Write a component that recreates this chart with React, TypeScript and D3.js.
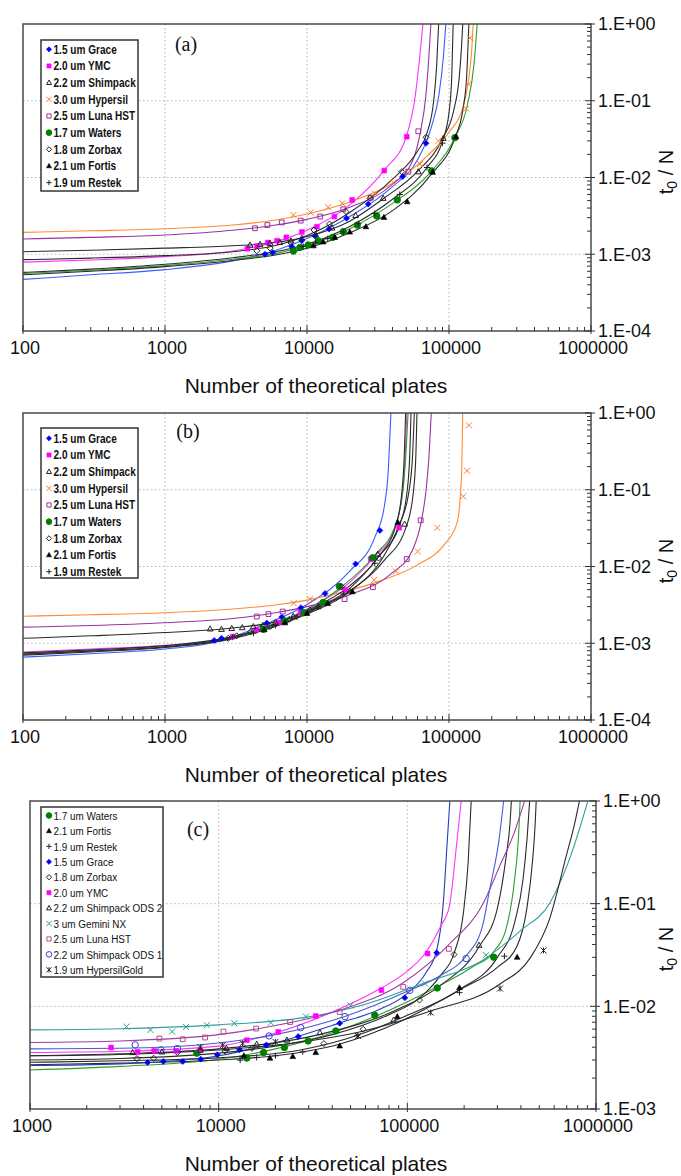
import React from 'react';
import * as d3 from 'd3';

type Pt = [number, number];

// ---------- panel (a): markers and fitted curves ----------
const aGracePts: Pt[] = [[5060, 1.0e-3], [5730, 1.05e-3], [7800, 1.26e-3], [9180, 1.5e-3], [11400, 1.73e-3], [14300, 2.13e-3], [19000, 2.94e-3], [27000, 4.5e-3], [47200, 0.0103], [68900, 0.0279]];
const aGraceFit: Pt[] = [[100, 4.7e-4], [300, 5.4e-4], [1000, 6.3e-4], [3000, 8.2e-4], [6000, 1.12e-3], [10000, 1.6e-3], [20000, 3.1e-3], [40000, 7.6e-3], [60000, 0.017], [75000, 0.045], [85000, 0.12], [91000, 0.35], [95000, 1.0]];
const aYmcPts: Pt[] = [[3800, 1.18e-3], [4450, 1.28e-3], [5300, 1.42e-3], [6150, 1.5e-3], [7150, 1.66e-3], [9200, 1.95e-3], [11750, 2.29e-3], [15600, 3.1e-3], [20800, 5.1e-3], [35000, 0.0123], [50400, 0.034]];
const aYmcFit: Pt[] = [[100, 7.9e-4], [300, 8.4e-4], [1000, 9.3e-4], [3000, 1.1e-3], [6000, 1.45e-3], [10000, 2.05e-3], [20000, 4.4e-3], [35000, 0.0125], [50000, 0.034], [58000, 0.12], [62000, 0.35], [65500, 1.0]];
const aShimPts: Pt[] = [[3970, 1.32e-3], [4670, 1.35e-3], [5490, 1.39e-3], [6450, 1.43e-3], [7700, 1.5e-3], [9200, 1.62e-3], [11500, 1.8e-3], [15000, 2.2e-3], [22000, 3.2e-3], [34400, 5.36e-3], [60800, 0.0119], [91200, 0.0324]];
const aShimFit: Pt[] = [[100, 1.08e-3], [300, 1.13e-3], [1000, 1.2e-3], [3000, 1.29e-3], [6000, 1.42e-3], [10000, 1.7e-3], [20000, 2.7e-3], [35000, 5.4e-3], [60000, 0.012], [90000, 0.032], [108000, 0.075], [118000, 0.2], [122500, 0.5], [125000, 1.0]];
const aHypPts: Pt[] = [[8020, 3.25e-3], [10600, 3.5e-3], [14100, 4.1e-3], [17700, 4.6e-3], [30100, 6.2e-3], [40600, 8.6e-3], [62500, 0.015], [84200, 0.03], [132000, 0.079], [137000, 0.165], [141000, 0.66]];
const aHypFit: Pt[] = [[100, 1.93e-3], [300, 2.02e-3], [1000, 2.15e-3], [3000, 2.4e-3], [6000, 2.8e-3], [10000, 3.35e-3], [20000, 4.8e-3], [40000, 8.4e-3], [70000, 0.019], [100000, 0.039], [125000, 0.08], [138000, 0.2], [145000, 0.5], [148000, 1.0]];
const aLunaPts: Pt[] = [[4300, 2.18e-3], [5260, 2.4e-3], [6640, 2.6e-3], [9030, 2.74e-3], [12400, 3.1e-3], [18000, 3.85e-3], [28100, 5.46e-3], [51700, 0.0119], [60800, 0.04]];
const aLunaFit: Pt[] = [[100, 1.58e-3], [300, 1.66e-3], [1000, 1.78e-3], [3000, 2.05e-3], [6000, 2.4e-3], [10000, 2.85e-3], [20000, 4.1e-3], [40000, 8.2e-3], [55000, 0.016], [63000, 0.04], [68500, 0.11], [72000, 0.35], [74500, 1.0]];
const aWatersPts: Pt[] = [[8020, 1.1e-3], [8930, 1.23e-3], [10200, 1.32e-3], [12000, 1.5e-3], [15200, 1.66e-3], [18000, 1.97e-3], [22600, 2.4e-3], [31000, 3.15e-3], [43200, 5.1e-3], [75500, 0.0122], [110000, 0.033]];
const aWatersFit: Pt[] = [[100, 5.6e-4], [300, 6.2e-4], [1000, 7.1e-4], [3000, 8.6e-4], [6000, 1.02e-3], [10000, 1.3e-3], [20000, 2.15e-3], [40000, 4.6e-3], [75000, 0.012], [110000, 0.033], [135000, 0.09], [150000, 0.3], [158000, 1.0]];
const aZorbaxPts: Pt[] = [[4430, 1.11e-3], [5500, 1.2e-3], [7670, 1.42e-3], [11200, 2.07e-3], [14400, 2.48e-3], [18800, 3.59e-3], [27800, 5.36e-3], [46500, 0.0119], [68900, 0.0334]];
const aZorbaxFit: Pt[] = [[100, 8.5e-4], [300, 8.9e-4], [1000, 9.6e-4], [3000, 1.08e-3], [6000, 1.3e-3], [10000, 1.75e-3], [20000, 3.5e-3], [40000, 9.5e-3], [60000, 0.022], [70000, 0.038], [78000, 0.1], [82000, 0.3], [84500, 1.0]];
const aFortisPts: Pt[] = [[11100, 1.29e-3], [13000, 1.45e-3], [15700, 1.66e-3], [20000, 1.95e-3], [26000, 2.29e-3], [34800, 3.03e-3], [50800, 4.84e-3], [76700, 0.0117], [112000, 0.034]];
const aFortisFit: Pt[] = [[100, 5.4e-4], [300, 6.0e-4], [1000, 6.9e-4], [3000, 8.3e-4], [6000, 9.8e-4], [10000, 1.2e-3], [20000, 1.9e-3], [40000, 3.7e-3], [75000, 0.011], [110000, 0.033], [125000, 0.075], [133000, 0.2], [138000, 1.0]];
const aRestekPts: Pt[] = [[9400, 1.26e-3], [11500, 1.4e-3], [14000, 1.6e-3], [18000, 1.95e-3], [23000, 2.5e-3], [30000, 3.4e-3], [45000, 6.0e-3], [70000, 0.0135], [90000, 0.028]];
const aRestekFit: Pt[] = [[100, 5.8e-4], [300, 6.4e-4], [1000, 7.4e-4], [3000, 9e-4], [6000, 1.08e-3], [10000, 1.35e-3], [20000, 2.3e-3], [40000, 5.2e-3], [70000, 0.0135], [90000, 0.03], [100000, 0.07], [104500, 0.2], [107000, 1.0]];

// ---------- panel (b) ----------
const bGracePts: Pt[] = [[2220, 1.09e-3], [2500, 1.16e-3], [5210, 1.83e-3], [6640, 2.19e-3], [9050, 2.9e-3], [13400, 4.45e-3], [22000, 0.0108], [32600, 0.0295]];
const bGraceFit: Pt[] = [[100, 6.6e-4], [300, 7.3e-4], [1000, 8.4e-4], [2200, 1.02e-3], [5000, 1.75e-3], [10000, 3.2e-3], [20000, 8.7e-3], [30000, 0.024], [35000, 0.06], [37500, 0.2], [39000, 1.0]];
const bYmcPts: Pt[] = [[3000, 1.22e-3], [4400, 1.5e-3], [6300, 1.85e-3], [9000, 2.5e-3], [13000, 3.4e-3], [18500, 5.0e-3], [28100, 0.0125], [44500, 0.032]];
const bYmcFit: Pt[] = [[100, 7.7e-4], [300, 8.4e-4], [1000, 9.4e-4], [3000, 1.2e-3], [6000, 1.8e-3], [10000, 2.8e-3], [20000, 6.2e-3], [30000, 0.0135], [40000, 0.027], [46000, 0.07], [49000, 0.25], [50500, 1.0]];
const bShimPts: Pt[] = [[2080, 1.54e-3], [2500, 1.52e-3], [2950, 1.56e-3], [3500, 1.6e-3], [4190, 1.65e-3], [4900, 1.72e-3], [6000, 1.88e-3], [8000, 2.25e-3], [12000, 3.0e-3], [20000, 4.8e-3], [31500, 0.0145], [48700, 0.0357]];
const bShimFit: Pt[] = [[100, 1.16e-3], [300, 1.25e-3], [1000, 1.38e-3], [3000, 1.58e-3], [6000, 1.9e-3], [10000, 2.6e-3], [20000, 5.2e-3], [32000, 0.0135], [45000, 0.035], [50500, 0.09], [53000, 0.3], [54000, 1.0]];
const bHypPts: Pt[] = [[8060, 3.33e-3], [10500, 3.76e-3], [29700, 6.7e-3], [42300, 8.6e-3], [60200, 0.0157], [82700, 0.032], [126000, 0.082], [134000, 0.177], [138000, 0.69]];
const bHypFit: Pt[] = [[100, 2.25e-3], [300, 2.35e-3], [1000, 2.5e-3], [3000, 2.8e-3], [6000, 3.15e-3], [10000, 3.65e-3], [20000, 4.9e-3], [32000, 6.4e-3], [60000, 0.0105], [92000, 0.019], [114000, 0.037], [120000, 0.08], [123000, 0.2], [125000, 1.0]];
const bLunaPts: Pt[] = [[4430, 2.23e-3], [5350, 2.4e-3], [6740, 2.59e-3], [12500, 3.2e-3], [18400, 3.76e-3], [29100, 5.4e-3], [50400, 0.0125], [63200, 0.04]];
const bLunaFit: Pt[] = [[100, 1.62e-3], [300, 1.7e-3], [1000, 1.85e-3], [3000, 2.1e-3], [6000, 2.5e-3], [10000, 3.0e-3], [20000, 4.3e-3], [40000, 8.3e-3], [55000, 0.016], [64000, 0.04], [69000, 0.1], [72500, 0.3], [75000, 1.0]];
const bWatersPts: Pt[] = [[4920, 1.52e-3], [7000, 1.95e-3], [9500, 2.5e-3], [13000, 3.4e-3], [16900, 5.5e-3], [29000, 0.013]];
const bWatersFit: Pt[] = [[100, 7.3e-4], [300, 8e-4], [1000, 9e-4], [3000, 1.2e-3], [6000, 1.75e-3], [10000, 2.7e-3], [17000, 5.2e-3], [30000, 0.014], [42000, 0.035], [47500, 0.1], [50000, 0.35], [51500, 1.0]];
const bZorbaxPts: Pt[] = [[2790, 1.16e-3], [3200, 1.25e-3], [4000, 1.4e-3], [5500, 1.65e-3], [7500, 2.05e-3], [10500, 2.7e-3], [17500, 5.5e-3], [31900, 0.0129]];
const bZorbaxFit: Pt[] = [[100, 7.5e-4], [300, 8.2e-4], [1000, 9.3e-4], [3000, 1.22e-3], [6000, 1.8e-3], [10000, 2.65e-3], [20000, 5.6e-3], [32000, 0.0135], [42000, 0.033], [46500, 0.09], [48500, 0.3], [49500, 1.0]];
const bFortisPts: Pt[] = [[5000, 1.5e-3], [7000, 1.85e-3], [10000, 2.45e-3], [14000, 3.3e-3], [20900, 4.7e-3], [43600, 0.0375]];
const bFortisFit: Pt[] = [[100, 7.0e-4], [300, 7.7e-4], [1000, 8.8e-4], [3000, 1.15e-3], [6000, 1.65e-3], [10000, 2.4e-3], [20000, 4.7e-3], [35000, 0.014], [44000, 0.033], [52000, 0.09], [55500, 0.3], [57000, 1.0]];
const bRestekPts: Pt[] = [[3000, 1.2e-3], [4200, 1.35e-3], [6000, 1.7e-3], [8500, 2.2e-3], [12000, 3.0e-3], [18000, 4.4e-3], [30000, 0.011]];
const bRestekFit: Pt[] = [[100, 7.2e-4], [300, 7.9e-4], [1000, 9e-4], [3000, 1.18e-3], [6000, 1.7e-3], [10000, 2.5e-3], [20000, 4.8e-3], [35000, 0.012], [50000, 0.033], [56000, 0.09], [58500, 0.3], [59500, 1.0]];

// ---------- panel (c) ----------
const cWatersPts: Pt[] = [[7660, 3.5e-3], [14100, 3.13e-3], [17300, 3.55e-3], [22300, 3.97e-3], [29800, 4.6e-3], [41800, 5.76e-3], [67200, 8.18e-3], [144000, 0.0151], [287000, 0.0301]];
const cWatersFit: Pt[] = [[1000, 2.4e-3], [3000, 2.6e-3], [10000, 3.05e-3], [20000, 3.85e-3], [42000, 5.7e-3], [70000, 8.2e-3], [144000, 0.0155], [220000, 0.024], [290000, 0.035], [333000, 0.056], [370000, 0.17], [390000, 0.52], [396000, 1.0]];
const cFortisPts: Pt[] = [[13600, 3.3e-3], [18700, 3.13e-3], [24700, 3.25e-3], [32700, 3.55e-3], [43800, 4.12e-3], [88500, 7.94e-3], [189000, 0.0152], [382000, 0.0301]];
const cFortisFit: Pt[] = [[1000, 2.7e-3], [3000, 2.8e-3], [10000, 3.0e-3], [20000, 3.3e-3], [44000, 4.3e-3], [90000, 7e-3], [190000, 0.0145], [300000, 0.024], [380000, 0.038], [430000, 0.09], [460000, 0.25], [476000, 0.6], [482000, 1.0]];
const cRestekPts: Pt[] = [[13000, 2.99e-3], [15900, 3.18e-3], [20000, 3.3e-3], [27900, 3.6e-3], [54200, 5.22e-3], [189000, 0.0136], [327000, 0.0308]];
const cRestekFit: Pt[] = [[1000, 2.85e-3], [3000, 2.95e-3], [10000, 3.15e-3], [28000, 3.8e-3], [54000, 5.2e-3], [100000, 8.2e-3], [189000, 0.0145], [300000, 0.03], [370000, 0.065], [410000, 0.17], [432000, 0.45], [445000, 1.0]];
const cGracePts: Pt[] = [[4200, 2.84e-3], [5090, 2.9e-3], [6450, 2.9e-3], [8030, 3.06e-3], [9840, 3.37e-3], [12900, 3.77e-3], [17900, 4.21e-3], [26400, 5.08e-3], [43800, 6.84e-3], [97000, 0.0121], [143000, 0.0332]];
const cGraceFit: Pt[] = [[1000, 2.65e-3], [3000, 2.75e-3], [10000, 3.3e-3], [20000, 4.4e-3], [44000, 6.9e-3], [70000, 9.2e-3], [97000, 0.0128], [125000, 0.021], [143000, 0.035], [155000, 0.1], [162000, 0.35], [168000, 1.0]];
const cZorbaxPts: Pt[] = [[3690, 3.1e-3], [4520, 3.12e-3], [6040, 3.55e-3], [10800, 3.68e-3], [15000, 3.9e-3], [36100, 4.34e-3], [58300, 5.98e-3], [116000, 0.0115], [177000, 0.032]];
const cZorbaxFit: Pt[] = [[1000, 3.0e-3], [3000, 3.1e-3], [10000, 3.5e-3], [20000, 4.1e-3], [40000, 5.3e-3], [80000, 8.3e-3], [116000, 0.012], [150000, 0.02], [177000, 0.033], [198000, 0.08], [210000, 0.25], [218000, 1.0]];
const cYmcPts: Pt[] = [[2690, 3.97e-3], [3720, 3.6e-3], [4550, 3.68e-3], [5950, 3.68e-3], [7980, 3.74e-3], [14100, 4.68e-3], [20700, 5.63e-3], [32700, 8.05e-3], [72900, 0.0144], [128000, 0.0327]];
const cYmcFit: Pt[] = [[1000, 3.55e-3], [3000, 3.65e-3], [10000, 4.1e-3], [20000, 5.5e-3], [40000, 8.8e-3], [70000, 0.0145], [100000, 0.022], [126000, 0.034], [150000, 0.06], [167000, 0.094], [182000, 0.36], [193000, 1.0]];
const cShim2Pts: Pt[] = [[3500, 3.55e-3], [5000, 3.6e-3], [8000, 3.75e-3], [11000, 3.9e-3], [15900, 4.28e-3], [23000, 4.7e-3], [34400, 5.56e-3], [84600, 7.36e-3], [240000, 0.0394]];
const cShim2Fit: Pt[] = [[1000, 3.3e-3], [3000, 3.45e-3], [10000, 3.85e-3], [34000, 5.3e-3], [85000, 9e-3], [150000, 0.016], [240000, 0.038], [300000, 0.09], [335000, 0.3], [350000, 0.6], [356000, 1.0]];
const cGeminiPts: Pt[] = [[3245, 6.35e-3], [4350, 5.89e-3], [5670, 5.68e-3], [6710, 6.3e-3], [8650, 6.55e-3], [12100, 6.84e-3], [18900, 6.95e-3], [29000, 7.95e-3], [50000, 0.0102], [124000, 0.0167], [261000, 0.0315]];
const cGeminiFit: Pt[] = [[1000, 5.9e-3], [3000, 6.05e-3], [10000, 6.6e-3], [30000, 7.9e-3], [60000, 0.0105], [124000, 0.017], [250000, 0.028], [400000, 0.055], [566000, 0.1], [723000, 0.27], [903000, 0.98]];
const cLunaPts: Pt[] = [[4850, 4.85e-3], [6450, 4.78e-3], [8470, 4.97e-3], [10600, 5.68e-3], [15800, 6.07e-3], [23900, 7.04e-3], [43800, 8.8e-3], [95100, 0.0155], [166000, 0.0363]];
const cLunaFit: Pt[] = [[1000, 4.45e-3], [3000, 4.6e-3], [10000, 5.3e-3], [20000, 6.5e-3], [44000, 9.2e-3], [95000, 0.017], [166000, 0.04], [252000, 0.1], [308000, 0.23], [370000, 0.5], [418000, 1.0]];
const cShim1Pts: Pt[] = [[3610, 4.21e-3], [4940, 3.77e-3], [6040, 3.88e-3], [18500, 5.15e-3], [27200, 6.2e-3], [46700, 7.94e-3], [103000, 0.0143], [205000, 0.0292]];
const cShim1Fit: Pt[] = [[1000, 3.85e-3], [3000, 3.9e-3], [10000, 4.4e-3], [20000, 5.3e-3], [47000, 8e-3], [100000, 0.014], [150000, 0.02], [205000, 0.031], [250000, 0.06], [273000, 0.137], [305000, 0.4], [324000, 1.0]];
const cHgPts: Pt[] = [[8000, 4.0e-3], [10500, 4.18e-3], [13400, 4.37e-3], [20000, 4.5e-3], [54700, 5.15e-3], [133000, 8.7e-3], [310000, 0.0149], [527000, 0.035]];
const cHgFit: Pt[] = [[1000, 3.3e-3], [3000, 3.4e-3], [10000, 3.75e-3], [30000, 4.6e-3], [55000, 5.6e-3], [133000, 9e-3], [310000, 0.0165], [450000, 0.03], [566000, 0.07], [695000, 0.29], [770000, 0.6], [817000, 1.0]];

// ---------- labels ----------
const legendAB = ['1.5 um Grace', '2.0 um YMC', '2.2 um Shimpack', '3.0 um Hypersil', '2.5 um Luna HST', '1.7 um Waters', '1.8 um Zorbax', '2.1 um Fortis', '1.9 um Restek'];
const legendC = ['1.7 um Waters', '2.1 um Fortis', '1.9 um Restek', '1.5 um Grace', '1.8 um Zorbax', '2.0 um YMC', '2.2 um Shimpack ODS 2', '3 um Gemini NX', '2.5 um Luna HST', '2.2 um Shimpack ODS 1', '1.9 um HypersilGold'];
const xTicksAB = [100, 1000, 10000, 100000, 1000000];
const xTicksC = [1000, 10000, 100000, 1000000];
const yTicksAB = [1, 0.1, 0.01, 0.001, 0.0001];
const yTicksC = [1, 0.1, 0.01, 0.001];
const yLabelsAB = ['1.E+00', '1.E-01', '1.E-02', '1.E-03', '1.E-04'];
const yLabelsC = ['1.E+00', '1.E-01', '1.E-02', '1.E-03'];
const xTitle = 'Number of theoretical plates';

// styles per column
const STY: Record<string, { mk: string; fill: string; stroke: string; line: string }> = {
  grace: { mk: 'diamond', fill: '#0000ff', stroke: '#0000ff', line: '#3d5cff' },
  ymc: { mk: 'square', fill: '#ff00ff', stroke: '#ff00ff', line: '#ff33ff' },
  shim: { mk: 'triangle', fill: 'none', stroke: '#222', line: '#2b2b2b' },
  hyp: { mk: 'x', fill: 'none', stroke: '#ff7a2a', line: '#ff8a33' },
  luna: { mk: 'square', fill: 'none', stroke: '#993399', line: '#9933a0' },
  waters: { mk: 'circle', fill: '#008000', stroke: '#008000', line: '#2e9e2e' },
  zorbax: { mk: 'diamond', fill: 'none', stroke: '#222', line: '#2b2b2b' },
  fortis: { mk: 'triangle', fill: '#000', stroke: '#000', line: '#2b2b2b' },
  restek: { mk: 'plus', fill: 'none', stroke: '#222', line: '#2b2b2b' },
  graceC: { mk: 'diamond', fill: '#0000ee', stroke: '#0000ee', line: '#2c3cb4' },
  gemini: { mk: 'x', fill: 'none', stroke: '#2a9a9a', line: '#339c9c' },
  lunaC: { mk: 'square', fill: 'none', stroke: '#b0508a', line: '#9a40a0' },
  shim1: { mk: 'circle', fill: 'none', stroke: '#3344cc', line: '#4a5ad0' },
  hg: { mk: 'star', fill: 'none', stroke: '#222', line: '#2b2b2b' },
};

const seriesA = [
  { pts: aGracePts, fit: aGraceFit, s: 'grace' }, { pts: aYmcPts, fit: aYmcFit, s: 'ymc' },
  { pts: aShimPts, fit: aShimFit, s: 'shim' }, { pts: aHypPts, fit: aHypFit, s: 'hyp' },
  { pts: aLunaPts, fit: aLunaFit, s: 'luna' }, { pts: aWatersPts, fit: aWatersFit, s: 'waters' },
  { pts: aZorbaxPts, fit: aZorbaxFit, s: 'zorbax' }, { pts: aFortisPts, fit: aFortisFit, s: 'fortis' },
  { pts: aRestekPts, fit: aRestekFit, s: 'restek' },
];
const seriesB = [
  { pts: bGracePts, fit: bGraceFit, s: 'grace' }, { pts: bYmcPts, fit: bYmcFit, s: 'ymc' },
  { pts: bShimPts, fit: bShimFit, s: 'shim' }, { pts: bHypPts, fit: bHypFit, s: 'hyp' },
  { pts: bLunaPts, fit: bLunaFit, s: 'luna' }, { pts: bWatersPts, fit: bWatersFit, s: 'waters' },
  { pts: bZorbaxPts, fit: bZorbaxFit, s: 'zorbax' }, { pts: bFortisPts, fit: bFortisFit, s: 'fortis' },
  { pts: bRestekPts, fit: bRestekFit, s: 'restek' },
];
const seriesC = [
  { pts: cWatersPts, fit: cWatersFit, s: 'waters' }, { pts: cFortisPts, fit: cFortisFit, s: 'fortis' },
  { pts: cRestekPts, fit: cRestekFit, s: 'restek' }, { pts: cGracePts, fit: cGraceFit, s: 'graceC' },
  { pts: cZorbaxPts, fit: cZorbaxFit, s: 'zorbax' }, { pts: cYmcPts, fit: cYmcFit, s: 'ymc' },
  { pts: cShim2Pts, fit: cShim2Fit, s: 'shim' }, { pts: cGeminiPts, fit: cGeminiFit, s: 'gemini' },
  { pts: cLunaPts, fit: cLunaFit, s: 'lunaC' }, { pts: cShim1Pts, fit: cShim1Fit, s: 'shim1' },
  { pts: cHgPts, fit: cHgFit, s: 'hg' },
];

const SANS = 'Liberation Sans, Arial, Helvetica, sans-serif';
const SERIF = 'Liberation Serif, Times New Roman, serif';

function glyph(mk: string, r: number) {
  switch (mk) {
    case 'diamond': return `M0,${-r}L${r},0L0,${r}L${-r},0Z`;
    case 'square': { const h = r * 0.8; return `M${-h},${-h}H${h}V${h}H${-h}Z`; }
    case 'triangle': return `M0,${-r}L${r * 0.95},${r * 0.7}L${-r * 0.95},${r * 0.7}Z`;
    case 'x': return `M${-r},${-r}L${r},${r}M${r},${-r}L${-r},${r}`;
    case 'plus': return `M${-r},0H${r}M0,${-r}V${r}`;
    case 'star': return `M${-r},${-r}L${r},${r}M${r},${-r}L${-r},${r}M0,${-r}V${r}`;
    default: return null;
  }
}

const Marker = ({ x, y, s, r }: { x: number; y: number; s: string; r: number }) => {
  const st = STY[s];
  if (st.mk === 'circle') {
    return <circle cx={x} cy={y} r={r} fill={st.fill} stroke={st.stroke} strokeWidth={1} />;
  }
  return <path d={glyph(st.mk, r) as string} transform={`translate(${x},${y})`} fill={st.fill} stroke={st.stroke} strokeWidth={st.fill === 'none' ? 1 : 0.6} />;
};

type Cfg = {
  id: string; left: number; right: number; top: number; bottom: number;
  xMin: number; yMin: number; xTicks: number[]; yTicks: number[]; yLabels: string[];
  letter: string; letterX: number; letterY: number;
  lgX: number; lgY: number; lgW: number; lgH: number; lgRow0: number; lgStep: number; lgBold: boolean; lgScale: number; lgFont: number;
  legend: string[]; series: { pts: Pt[]; fit: Pt[]; s: string }[];
};

const Panel = ({ c }: { c: Cfg }) => {
  const x = d3.scaleLog().domain([c.xMin, 1e6]).range([c.left, c.right]);
  const y = d3.scaleLog().domain([c.yMin, 1]).range([c.bottom, c.top]);
  const line = d3.line<Pt>().x(d => x(d[0])).y(d => y(d[1])).curve(d3.curveMonotoneX);
  const xMinor = x.ticks().filter(v => !c.xTicks.some(t => Math.abs(t - v) / t < 1e-6));
  const yMinor = y.ticks().filter(v => !c.yTicks.some(t => Math.abs(t - v) / t < 1e-6));
  const clip = `clip-${c.id}`;
  return (
    <g>
      <defs>
        <clipPath id={clip}><rect x={c.left} y={c.top} width={c.right - c.left} height={c.bottom - c.top} /></clipPath>
      </defs>
      {/* grid */}
      {c.xTicks.slice(1, -1).map(t => (
        <line key={'gx' + t} x1={x(t)} x2={x(t)} y1={c.top} y2={c.bottom} stroke="#b5b5b5" strokeDasharray="1.5,2.5" />
      ))}
      {c.yTicks.slice(1, -1).map(t => (
        <line key={'gy' + t} x1={c.left} x2={c.right} y1={y(t)} y2={y(t)} stroke="#b5b5b5" strokeDasharray="1.5,2.5" />
      ))}
      <g clipPath={`url(#${clip})`}>
        {c.series.map((sr, i) => (
          <path key={'f' + i} d={line(sr.fit) as string} fill="none" stroke={STY[sr.s].line} strokeWidth={1.1} />
        ))}
        {c.series.map((sr, i) => (
          <g key={'m' + i}>
            {sr.pts.map((p, j) => <Marker key={j} x={x(p[0])} y={y(p[1])} s={sr.s} r={STY[sr.s].mk === 'circle' ? 3.2 : 3} />)}
          </g>
        ))}
      </g>
      {/* frame */}
      <rect x={c.left} y={c.top} width={c.right - c.left} height={c.bottom - c.top} fill="none" stroke="#4a4a4a" strokeWidth={1.5} />
      {/* ticks */}
      {xMinor.map(t => <line key={'tx' + t} x1={x(t)} x2={x(t)} y1={c.bottom} y2={c.bottom - 4} stroke="#333" />)}
      {c.xTicks.map(t => <line key={'TX' + t} x1={x(t)} x2={x(t)} y1={c.bottom + 3} y2={c.bottom - 6} stroke="#333" />)}
      {yMinor.map(t => <line key={'ty' + t} x1={c.right} x2={c.right - 4} y1={y(t)} y2={y(t)} stroke="#333" />)}
      {c.yTicks.map(t => <line key={'TY' + t} x1={c.right + 4} x2={c.right - 6} y1={y(t)} y2={y(t)} stroke="#333" />)}
      {/* tick labels */}
      {c.xTicks.map(t => (
        <text key={'lx' + t} x={x(t) + 2} y={c.bottom + 23} textAnchor="middle" fontFamily={SANS} fontSize={18} fill="#111">{String(t)}</text>
      ))}
      {c.yTicks.map((t, i) => (
        <text key={'ly' + t} x={c.right + 7} y={y(t)} dy="0.36em" fontFamily={SANS} fontSize={18} fill="#111">{c.yLabels[i]}</text>
      ))}
      <text x={316} y={c.bottom + 62} textAnchor="middle" fontFamily={SANS} fontSize={21} fill="#111">{xTitle}</text>
      <text transform={`translate(673,${c.top + 148}) rotate(-90)`} textAnchor="middle" fontFamily={SANS} fontSize={20} fill="#111">
        t<tspan fontSize={14} dy={4}>0</tspan><tspan dy={-4}> / N</tspan>
      </text>
      <text x={c.letterX} y={c.letterY} textAnchor="middle" fontFamily={SERIF} fontSize={20} fill="#111">{c.letter}</text>
      {/* legend */}
      <rect x={c.lgX} y={c.lgY} width={c.lgW} height={c.lgH} fill="#fff" stroke="#333" strokeWidth={1.5} />
      {c.legend.map((lab, i) => {
        const ry = c.lgRow0 + i * c.lgStep;
        const s = c.series[i].s;
        return (
          <g key={'lg' + i}>
            <Marker x={c.lgX + 8} y={ry} s={s} r={STY[s].mk === 'circle' ? 2.8 : 2.6} />
            <text transform={`translate(${c.lgX + 12.5},${ry}) scale(${c.lgScale},1)`} dy="0.36em" fontFamily={SANS} fontSize={c.lgFont} fontWeight={c.lgBold ? 'bold' : 'normal'} fill="#111">{lab}</text>
          </g>
        );
      })}
    </g>
  );
};

const panels: Cfg[] = [
  {
    id: 'a', left: 23, right: 591, top: 24, bottom: 331, xMin: 100, yMin: 1e-4, xTicks: xTicksAB, yTicks: yTicksAB, yLabels: yLabelsAB,
    letter: '(a)', letterX: 186, letterY: 51, lgX: 41, lgY: 40, lgW: 97, lgH: 151, lgRow0: 49.3, lgStep: 16.67, lgBold: true, lgScale: 0.84, lgFont: 12,
    legend: legendAB, series: seriesA,
  },
  {
    id: 'b', left: 23, right: 591, top: 413, bottom: 720, xMin: 100, yMin: 1e-4, xTicks: xTicksAB, yTicks: yTicksAB, yLabels: yLabelsAB,
    letter: '(b)', letterX: 188, letterY: 438, lgX: 41, lgY: 428, lgW: 97, lgH: 150, lgRow0: 438.3, lgStep: 16.67, lgBold: true, lgScale: 0.84, lgFont: 12,
    legend: legendAB, series: seriesB,
  },
  {
    id: 'c', left: 30, right: 596, top: 801, bottom: 1109, xMin: 1000, yMin: 1e-3, xTicks: xTicksC, yTicks: yTicksC, yLabels: yLabelsC,
    letter: '(c)', letterX: 198, letterY: 836, lgX: 41, lgY: 807, lgW: 122, lgH: 170, lgRow0: 815.5, lgStep: 15.43, lgBold: false, lgScale: 0.86, lgFont: 11.5,
    legend: legendC, series: seriesC,
  },
];

export default function App() {
  return (
    <div style={{ position: 'absolute', left: 0, top: 0 }}>
      <svg width={681} height={1176} style={{ display: 'block', background: '#fff' }}>
        <rect width={681} height={1176} fill="#fff" />
        {panels.map(p => <Panel key={p.id} c={p} />)}
      </svg>
    </div>
  );
}
